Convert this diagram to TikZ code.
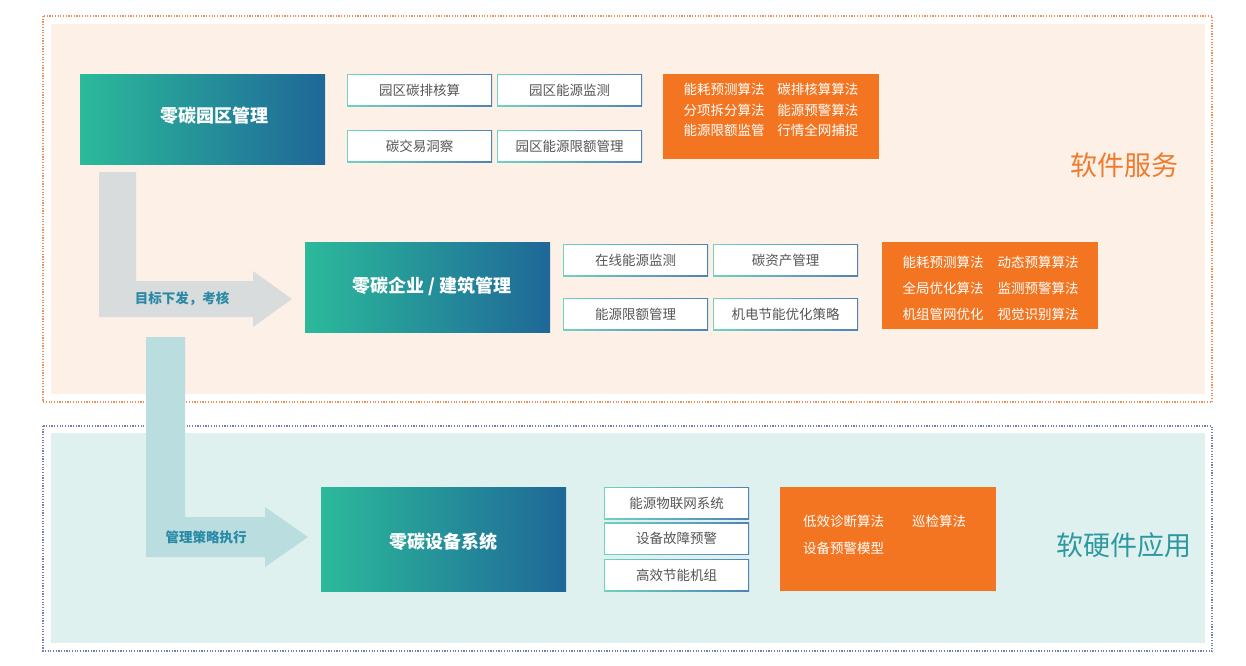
\documentclass[tikz,border=0pt]{standalone}
\usepackage{fontspec}
\setmainfont{Noto Sans CJK SC}
\definecolor{peach}{HTML}{FDF0E7}
\definecolor{mint}{HTML}{DFF1EE}
\definecolor{odot}{HTML}{EE9055}
\definecolor{bdot}{HTML}{6F82AD}
\definecolor{obox}{HTML}{F47521}
\definecolor{garrow}{HTML}{D9DCDD}
\definecolor{barrow}{HTML}{BADDE0}
\definecolor{atext}{HTML}{2A8AA6}
\definecolor{gtext}{HTML}{555555}
\definecolor{lab1}{HTML}{F07B2C}
\definecolor{lab2}{HTML}{2E98A0}
\definecolor{gl}{HTML}{2BBA9A}
\definecolor{gr}{HTML}{1F6798}
\definecolor{wl}{HTML}{6FD3C0}
\definecolor{wr}{HTML}{4F82B5}
\tikzset{
  gbox/.style={left color=gl, right color=gr, minimum width=#1, inner sep=0pt},
  otext/.style={text=white, font=\fontsize{13.5pt}{20pt}\selectfont, inner sep=0pt},
  wtext/.style={text=gtext, font=\fontsize{13.5pt}{16pt}\selectfont, fill=white, minimum width=143pt, minimum height=30pt, inner sep=0pt},
  btitle/.style={text=white, font=\bfseries\fontsize{18pt}{20pt}\selectfont, inner sep=0pt},
  rlabel/.style={font=\fontsize{27pt}{29pt}\selectfont, inner sep=0pt},
}
\newcommand{\wbox}[4]{%
  \shade[left color=wl, right color=wr] (#2-72.5,#3-16) rectangle (#2+72.5,#3+16);
  \node[wtext] (#1) at (#2,#3) {#4};}
\begin{document}
\begin{tikzpicture}[x=1pt,y=-1pt]
\useasboundingbox (0,0) rectangle (1246,665);
% regions
\fill[peach] (51,24) rectangle (1205,394);
\draw[odot, line width=1.2pt, dash pattern=on 1.2pt off 1.5pt] (43,16) rectangle (1212,402);
\fill[mint] (51,433) rectangle (1205,643);
\draw[bdot, line width=1.2pt, dash pattern=on 1.2pt off 1.5pt] (43,426) rectangle (1212,651);
% region labels
\node[rlabel, text=lab1] (l1) at (1124,165) {软件服务};
\node[rlabel, text=lab2] (l2) at (1124,545) {软硬件应用};
% block arrows
\fill[garrow] (99,172) -- (136,172) -- (136,281) -- (253,281) -- (253,271) -- (292,299) -- (253,327) -- (253,317) -- (99,317) -- cycle;
\fill[barrow] (146,337) -- (185,337) -- (185,517) -- (265,517) -- (265,507) -- (308,537) -- (265,567) -- (265,557) -- (146,557) -- cycle;
\node[text=atext, font=\bfseries\fontsize{13.5pt}{16pt}\selectfont, inner sep=0pt] (a1) at (182,299) {目标下发，考核};
\node[text=atext, font=\bfseries\fontsize{13.5pt}{16pt}\selectfont, inner sep=0pt] (a2) at (206,537) {管理策略执行};
% main gradient boxes
\node[gbox=245pt, minimum height=90pt] (b1) at (202.5,119) {};
\node[btitle] (b1t) at (214,116) {零碳园区管理};
\node[gbox=245pt, minimum height=90pt] (b2) at (427.5,287) {};
\node[btitle] (b2t) at (432,286) {零碳企业 / 建筑管理};
\node[gbox=245pt, minimum height=104pt] (b3) at (443.5,539) {};
\node[btitle] (b3t) at (443,542) {零碳设备系统};
% white boxes row 1
\wbox{w11}{419.5}{90}{园区碳排核算}
\wbox{w12}{569.5}{90}{园区能源监测}
\wbox{w13}{419.5}{146}{碳交易洞察}
\wbox{w14}{569.5}{146}{园区能源限额管理}
% white boxes row 2
\wbox{w21}{635.5}{260}{在线能源监测}
\wbox{w22}{785.5}{260}{碳资产管理}
\wbox{w23}{635.5}{314}{能源限额管理}
\wbox{w24}{785.5}{314}{机电节能优化策略}
% white boxes row 3
\wbox{w31}{676.5}{503}{能源物联网系统}
\wbox{w32}{676.5}{538.5}{设备故障预警}
\wbox{w33}{676.5}{575}{高效节能机组}
% orange boxes
\node[fill=obox, minimum width=216pt, minimum height=85pt, inner sep=0pt] (o1) at (771,116.5) {};
\node[otext, align=center] (o1t) at (771,111) {\begin{tabular}{@{}c@{\hspace{13pt}}c@{}}能耗预测算法 & 碳排核算算法\\[0.5pt] 分项拆分算法 & 能源预警算法\\[0.5pt] 能源限额监管 & 行情全网捕捉\end{tabular}};
\node[fill=obox, minimum width=216pt, minimum height=87pt, inner sep=0pt] (o2) at (990,285.5) {};
\node[otext, align=center] (o2t) at (990.5,289) {\begin{tabular}{@{}c@{\hspace{14pt}}c@{}}能耗预测算法 & 动态预算算法\\[6pt] 全局优化算法 & 监测预警算法\\[6pt] 机组管网优化 & 视觉识别算法\end{tabular}};
\node[fill=obox, minimum width=216pt, minimum height=104pt, inner sep=0pt] (o3) at (888,539) {};
\node[otext, anchor=west] (o3a) at (803,521) {低效诊断算法};
\node[otext, anchor=west] (o3b) at (912,521) {巡检算法};
\node[otext, anchor=west] (o3c) at (803,548) {设备预警模型};
\end{tikzpicture}
\end{document}
